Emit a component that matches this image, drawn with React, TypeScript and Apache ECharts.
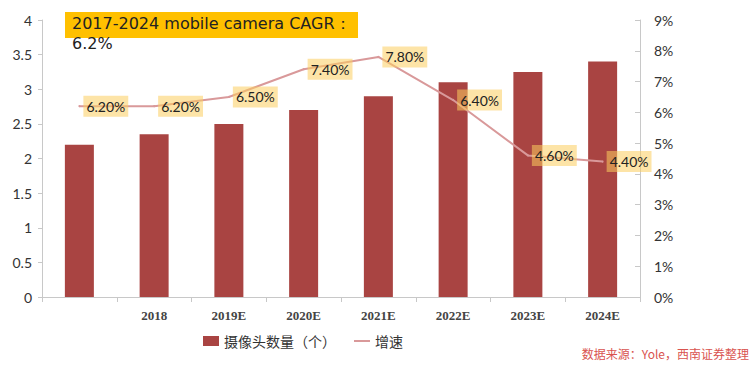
import React, { useEffect, useRef } from "react";
import * as echarts from "echarts";

const categories = ["", "2018", "2019E", "2020E", "2021E", "2022E", "2023E", "2024E"];
const cameraCounts = [2.2, 2.35, 2.5, 2.7, 2.9, 3.1, 3.25, 3.4];
const growthRates = [6.2, 6.2, 6.5, 7.4, 7.8, 6.4, 4.6, 4.4];
const barName = "摄像头数量（个）";
const lineName = "增速";
const titleLine1 = "2017-2024 mobile camera CAGR：";
const titleLine2 = "6.2%";
const sourceText = "数据来源：Yole，西南证券整理";

export default function App() {
  const ref = useRef<HTMLDivElement>(null);
  useEffect(() => {
    if (!ref.current) return;
    const chart = echarts.init(ref.current, undefined, { renderer: "svg" });
    const axisLine = { show: true, lineStyle: { color: "#c8c8c8", width: 1 } };
    chart.setOption({
      animation: false,
      backgroundColor: "#ffffff",
      grid: { left: 42, right: 115, top: 20, bottom: 72 },
      legend: {
        bottom: 16,
        left: 198,
        itemWidth: 16,
        itemHeight: 10,
        itemGap: 18,
        textStyle: { fontFamily: "Noto Sans CJK SC", fontSize: 14, color: "#333" },
        data: [
          { name: barName, icon: "rect" },
          { name: lineName, icon: "path://M0,5 L16,5 L16,7 L0,7 Z" },
        ],
      },
      xAxis: {
        type: "category",
        data: categories,
        boundaryGap: true,
        axisLine,
        axisTick: { show: true, length: 5, lineStyle: { color: "#c8c8c8" } },
        axisLabel: {
          margin: 12,
          fontFamily: "Liberation Serif",
          fontSize: 13,
          fontWeight: "bold",
          color: "#444",
        },
      },
      yAxis: [
        {
          type: "value",
          min: 0,
          max: 4,
          interval: 0.5,
          splitLine: { show: false },
          axisLine,
          axisTick: { show: true, length: 4, lineStyle: { color: "#c8c8c8" } },
          axisLabel: { margin: 10, fontFamily: "Lato", fontSize: 14, color: "#333" },
        },
        {
          type: "value",
          min: 0,
          max: 9,
          interval: 1,
          position: "right",
          splitLine: { show: false },
          axisLine,
          axisTick: { show: true, inside: true, length: 5, lineStyle: { color: "#c8c8c8" } },
          axisLabel: {
            margin: 14,
            fontFamily: "Lato",
            fontSize: 14,
            color: "#333",
            formatter: (v: number) => v + "%",
          },
        },
      ],
      series: [
        {
          name: barName,
          type: "bar",
          data: cameraCounts,
          barWidth: 29,
          itemStyle: { color: "#a94442" },
        },
        {
          name: lineName,
          type: "line",
          yAxisIndex: 1,
          data: growthRates,
          symbol: "circle",
          symbolSize: 2,
          showSymbol: true,
          lineStyle: { color: "#d9999a", width: 2 },
          itemStyle: { color: "#d9999a" },
          label: {
            show: true,
            position: "right",
            distance: 3,
            formatter: (p: any) => Number(p.value).toFixed(2) + "%",
            fontFamily: "Lato",
            fontSize: 14,
            color: "#222",
            backgroundColor: "rgba(252, 205, 95, 0.55)",
            padding: [4, 3, 3, 3],
          },
          labelLayout: { hideOverlap: false },
          z: 5,
        },
      ],
      graphic: [
        {
          type: "rect",
          left: 65,
          top: 12,
          shape: { width: 293, height: 26 },
          style: { fill: "#ffc000" },
          z: 10,
        },
        {
          type: "text",
          left: 72,
          top: 15,
          style: {
            text: titleLine1,
            fontFamily: "DejaVu Sans",
            fontSize: 16,
            fill: "#222",
          },
          z: 11,
        },
        {
          type: "text",
          left: 72,
          top: 35,
          style: {
            text: titleLine2,
            fontFamily: "DejaVu Sans",
            fontSize: 16,
            fill: "#222",
          },
          z: 11,
        },
        {
          type: "text",
          right: 6,
          top: 347,
          style: {
            text: sourceText,
            fontFamily: "Noto Sans CJK SC",
            fontSize: 12,
            fill: "#d9534f",
          },
          z: 11,
        },
      ],
    });
    return () => chart.dispose();
  }, []);
  return <div ref={ref} style={{ width: 755, height: 369, position: "absolute", left: 0, top: 0 }} />;
}
